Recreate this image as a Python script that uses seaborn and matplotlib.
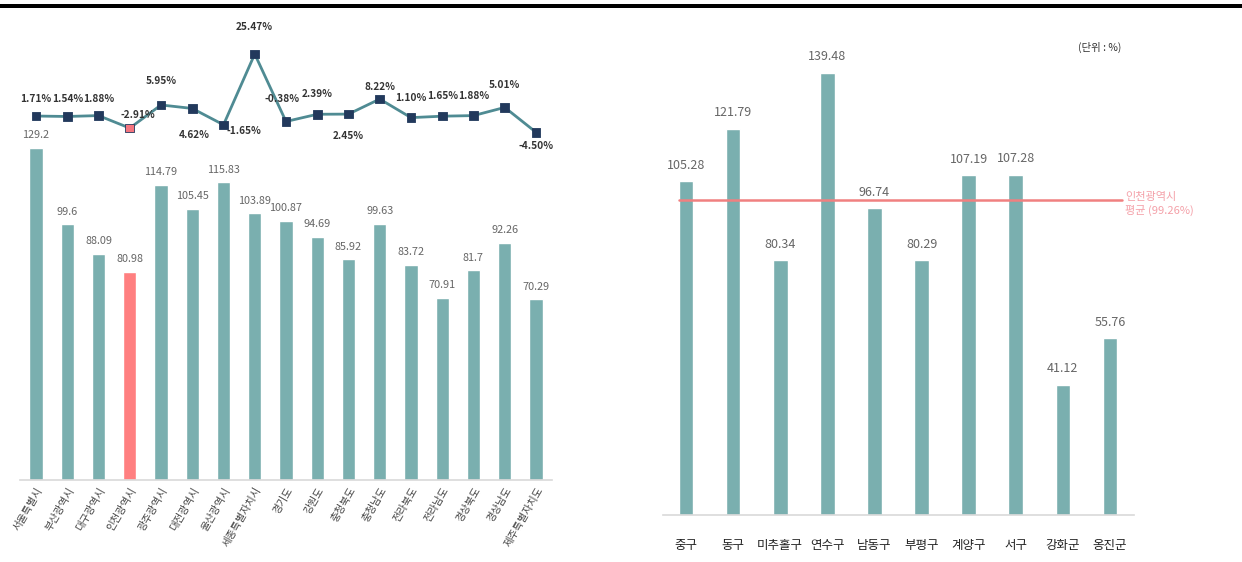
import matplotlib
matplotlib.use("Agg")
import matplotlib.pyplot as plt
import seaborn as sns
import numpy as np
import pandas as pd
from matplotlib.patches import Rectangle

sns.set_theme(style="white")
plt.rcParams['font.family'] = ['Noto Sans CJK KR', 'DejaVu Sans']

# ---- data: 시도별 비율 및 증감률 ----
regions = ["서울특별시", "부산광역시", "대구광역시", "인천광역시", "광주광역시", "대전광역시",
           "울산광역시", "세종특별자치시", "경기도", "강원도", "충청북도", "충청남도",
           "전라북도", "전라남도", "경상북도", "경상남도", "제주특별자치도"]
region_values = [129.2, 99.6, 88.09, 80.98, 114.79, 105.45, 115.83, 103.89, 100.87,
                 94.69, 85.92, 99.63, 83.72, 70.91, 81.7, 92.26, 70.29]
region_change = [1.71, 1.54, 1.88, -2.91, 5.95, 4.62, -1.65, 25.47, -0.38, 2.39,
                 2.45, 8.22, 1.10, 1.65, 1.88, 5.01, -4.50]
highlight_region = "인천광역시"

# ---- data: 인천 군·구별 비율 ----
districts = ["중구", "동구", "미추홀구", "연수구", "남동구", "부평구", "계양구", "서구", "강화군", "옹진군"]
district_values = [105.28, 121.79, 80.34, 139.48, 96.74, 80.29, 107.19, 107.28, 41.12, 55.76]
incheon_avg = 99.26

TEAL = "#7aafaf"
RED = "#ff7f80"
NAVY = "#22395c"
LINE = "#4f8b93"
GRAY_TXT = "#666666"

W, H = 1242, 562
fig = plt.figure(figsize=(W / 100, H / 100), dpi=100)


def px_axes(x0, y_top, x1, y_bot):
    """Add an axes given its pixel box measured from the top-left corner."""
    return fig.add_axes([x0 / W, (H - y_bot) / H, (x1 - x0) / W, (y_bot - y_top) / H])


# thick rule across the top
fig.add_artist(Rectangle((0, (H - 8) / H), 1, 4 / H, transform=fig.transFigure,
                         color="black", lw=0))

# ---------------- left: bars ----------------
axL = px_axes(20.4, 140, 551.6, 480)
df_r = pd.DataFrame({"region": regions, "value": region_values})
pal = {r: (RED if r == highlight_region else TEAL) for r in regions}
sns.barplot(data=df_r, x="region", y="value", hue="region", palette=pal,
            legend=False, width=0.42, ax=axL, saturation=1)
axL.set_xlim(-0.5, len(regions) - 0.5)
axL.set_ylim(0, 340 / 2.57)
for i, v in enumerate(region_values):
    axL.annotate(f"{v:g}", (i, v), xytext=(0, 9), textcoords="offset points",
                 ha="center", va="center", fontsize=7.8, color=GRAY_TXT)
axL.set_xlabel("")
axL.set_ylabel("")
axL.set_yticks([])
axL.tick_params(axis="x", length=0, pad=4)
axL.set_xticks(range(len(regions)))
axL.set_xticklabels(regions, rotation=60, ha="right", va="top", rotation_mode="anchor",
                    fontsize=7.5, color="#444444")
for s in ["top", "right", "left"]:
    axL.spines[s].set_visible(False)
axL.spines["bottom"].set_color("#d9d9d9")
axL.spines["bottom"].set_linewidth(1.2)

# ---------------- left: change line ----------------
axT = px_axes(20.4, 30, 551.6, 140)
axT.patch.set_alpha(0)
xs = np.arange(len(regions))
sns.lineplot(x=xs, y=region_change, color=LINE, lw=2, ax=axT)
mk_colors = [("#f4757f" if r == highlight_region else NAVY) for r in regions]
axT.scatter(xs, region_change, marker="s", s=38, c=mk_colors, edgecolors=NAVY,
            linewidths=0.6, zorder=3)
axT.set_xlim(-0.5, len(regions) - 0.5)
axT.set_ylim((120.5 - 140) / 2.61, (120.5 - 30) / 2.61)
axT.axis("off")
# label offsets (pixels) relative to each marker
label_off = [(0, 17), (0, 17), (0, 17), (8, 13), (0, 24), (2, -27), (20, -6), (0, 27),
             (-4, 22), (0, 20), (0, -22), (0, 12), (0, 20), (0, 20), (0, 20), (0, 22), (0, -14)]
for i, (v, (dx, dy)) in enumerate(zip(region_change, label_off)):
    axT.annotate(f"{v:.2f}%", (i, v), xytext=(dx * 0.72, dy * 0.72), textcoords="offset points",
                 ha="center", va="center", fontsize=7.3, fontweight="bold", color="#333333")

# ---------------- right: district bars ----------------
axR = px_axes(662.5, 40, 1133.5, 515)
df_d = pd.DataFrame({"district": districts, "value": district_values})
sns.barplot(data=df_d, x="district", y="value", color=TEAL, width=0.31, ax=axR, saturation=1)
axR.set_xlim(-0.5, len(districts) - 0.5)
axR.set_ylim(0, 475 / 3.172)
for i, v in enumerate(district_values):
    axR.annotate(f"{v:.2f}", (i, v), xytext=(0, 11.5), textcoords="offset points",
                 ha="center", va="center", fontsize=9, color=GRAY_TXT)
axR.axhline(incheon_avg, xmin=0.035, xmax=0.975, color="#f08080", lw=1.8, zorder=3)
fig.text(1125 / W, (H - 204) / H, f"인천광역시\n평균 ({incheon_avg:.2f}%)", ha="left",
         va="center", fontsize=8, color="#f4a0a8", linespacing=1.25)
fig.text(1100 / W, (H - 47) / H, "(단위 : %)", ha="center", va="center", fontsize=7.5,
         color="#333333")
axR.set_xlabel("")
axR.set_ylabel("")
axR.set_yticks([])
axR.tick_params(axis="x", length=0, pad=17)
axR.set_xticks(range(len(districts)))
axR.set_xticklabels(districts, fontsize=9, color="#222222")
for s in ["top", "right", "left"]:
    axR.spines[s].set_visible(False)
axR.spines["bottom"].set_color("#d9d9d9")
axR.spines["bottom"].set_linewidth(1.2)

fig.savefig("out.png", dpi=100)
